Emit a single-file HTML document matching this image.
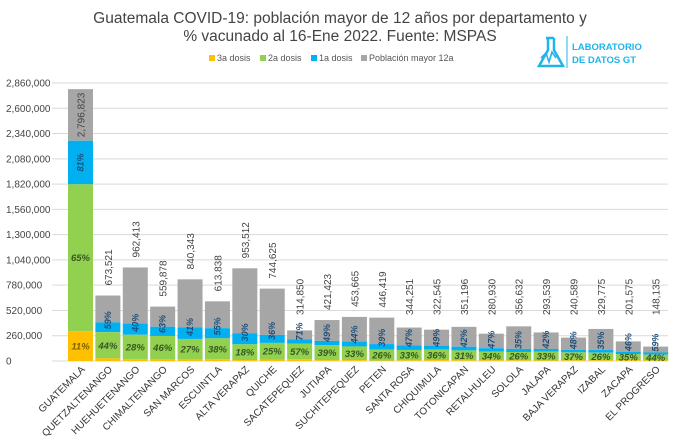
<!DOCTYPE html>
<html><head><meta charset="utf-8">
<style>
body{margin:0;background:#fff;font-family:"Liberation Sans",sans-serif;}
#wrap{position:relative;width:680px;height:445px;overflow:hidden;}
</style></head>
<body><div id="wrap">
<svg id="chart" width="680" height="445" xmlns="http://www.w3.org/2000/svg">
<text x="340" y="23" text-anchor="middle" font-size="15.5" fill="#444">Guatemala COVID-19: población mayor de 12 años por departamento y</text>
<text x="340" y="41" text-anchor="middle" font-size="15.5" fill="#444">% vacunado al 16-Ene 2022. Fuente: MSPAS</text>
<g>
<path d="M546 38 L554 38 M548 38 L548 50 L539 66 L563 66 L554 50 L554 38" fill="none" stroke="#1fb5ea" stroke-width="2.5"/>
<path d="M541 58 L546 53 L549 62 L552 52 L556 58" fill="none" stroke="#1fb5ea" stroke-width="1.6"/>
<line x1="567" y1="36" x2="567" y2="68" stroke="#1fb5ea" stroke-width="1"/>
<text x="572" y="50" font-size="9.5" font-weight="bold" fill="#1fb5ea">LABORATORIO</text>
<text x="572" y="63" font-size="9.5" font-weight="bold" fill="#1fb5ea">DE DATOS GT</text>
</g>
<g font-size="9" fill="#555">
<rect x="209" y="55" width="6" height="6" fill="#ffc000"/><text x="217" y="61">3a dosis</text>
<rect x="260" y="55" width="6" height="6" fill="#92d050"/><text x="268" y="61">2a dosis</text>
<rect x="311" y="55" width="6" height="6" fill="#00b0f0"/><text x="319" y="61">1a dosis</text>
<rect x="361" y="55" width="6" height="6" fill="#a6a6a6"/><text x="369" y="61">Población mayor 12a</text>
</g>
<g id="grid"></g><g id="bars"></g><g id="labels"></g>
</svg>
<script>
const categories=["GUATEMALA","QUETZALTENANGO","HUEHUETENANGO","CHIMALTENANGO","SAN MARCOS","ESCUINTLA","ALTA VERAPAZ","QUICHE","SACATEPEQUEZ","JUTIAPA","SUCHITEPEQUEZ","PETEN","SANTA ROSA","CHIQUIMULA","TOTONICAPAN","RETALHULEU","SOLOLA","JALAPA","BAJA VERAPAZ","IZABAL","ZACAPA","EL PROGRESO"];
const population=[2796823,673521,962413,559878,840343,613838,953512,744625,314850,421423,453665,446419,344251,322545,351196,280930,356632,293539,240589,329775,201575,148135];
const pct1=[81,59,40,63,41,55,30,36,71,49,44,39,47,49,42,47,35,42,48,35,46,59];
const pct2=[65,44,28,46,27,38,18,25,57,39,33,26,33,36,31,34,26,33,37,26,35,44];
const pct3=[11,4,2,3,2,3,1,2,6,2,2,1,2,3,2,3,2,2,3,2,4,4];
const yTicks=[0,260000,520000,780000,1040000,1300000,1560000,1820000,2080000,2340000,2600000,2860000];
</script>
<script>
const NS="http://www.w3.org/2000/svg";
const y0=361,yTop=83,maxV=2860000;
const y=v=>y0-(v/maxV)*(y0-yTop);
const slot=(667-68)/(categories.length-0.13);
const x=i=>68+i*slot;
const bw=25;
function mk(tag,attrs,parent,txt){const e=document.createElementNS(NS,tag);for(const k in attrs)e.setAttribute(k,attrs[k]);if(txt!==undefined)e.textContent=txt;parent.appendChild(e);return e;}
const grid=document.getElementById('grid'),bars=document.getElementById('bars'),labs=document.getElementById('labels');
yTicks.forEach((t,k)=>{
 const l=mk('line',{x1:52,x2:668,y1:y(t),y2:y(t),stroke:'#d9d9d9','stroke-width':1},grid);
 
 
 const tx=mk('text',{x:6,y:y(t)+3.5,'font-size':10,fill:'#444'},grid,t.toLocaleString('en-US'));
 
 
});
categories.forEach((c,i)=>{
 const p=population[i],v1=p*pct1[i]/100,v2=p*pct2[i]/100,v3=p*pct3[i]/100,bx=x(i);
 const segs=[[p,v1,'#a6a6a6','bar-poblacion'],[v1,v2,'#00b0f0','bar-1a-dosis'],[v2,v3,'#92d050','bar-2a-dosis'],[v3,0,'#ffc000','bar-3a-dosis']];
 segs.forEach(s=>{
  const r=mk('rect',{x:bx,y:y(s[0]),width:bw,height:y(s[1])-y(s[0]),fill:s[2]},bars);
  
  
 });
 const cx=bx+bw/2;
 let py=(i===0)?(y(p)+y(v1))/2:Math.min(y(p)-10,315);
 const tv=mk('text',{x:cx+4,y:py,'font-size':10,fill:'#444','text-anchor':i===0?'middle':'start',transform:`rotate(-90 ${cx+4} ${py})`},labs,p.toLocaleString('en-US'));
 
 
 const segH=y(v2)-y(v1);
 let by,anc;
 if(segH>30){by=(y(v1)+y(v2))/2;anc='middle';}else{by=y(v2)-3;anc='start';}
 const tb=mk('text',{x:cx+3,y:by,'font-size':9,'font-weight':'bold','font-style':'italic',fill:'#1f4e79','text-anchor':anc,transform:`rotate(-90 ${cx+3} ${by})`},labs,pct1[i]+'%');
 
 
 const gy=(y(v2)+y(v3))/2+3.5;
 const tg=mk('text',{x:cx,y:gy,'font-size':9.5,'font-weight':'bold','font-style':'italic',fill:'#375623','text-anchor':'middle'},labs,pct2[i]+'%');
 
 
 if(i===0){
  const yy=(y(v3)+y0)/2+3.5;
  const t3=mk('text',{x:cx,y:yy,'font-size':9.5,'font-weight':'bold','font-style':'italic',fill:'#7f6000','text-anchor':'middle'},labs,pct3[i]+'%');
  
  
 }
 const lx=cx+5,ly=370;
 const xl=mk('text',{x:lx,y:ly,'font-size':10,fill:'#333','text-anchor':'end',transform:`rotate(-45 ${lx} ${ly})`},labs,c);
 
 
});
</script>
</div></body></html>
